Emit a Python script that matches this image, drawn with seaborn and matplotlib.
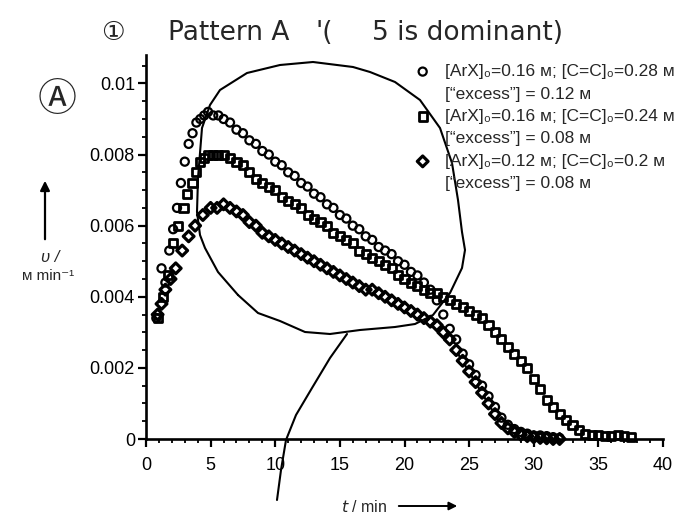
import matplotlib
matplotlib.use("Agg")
import matplotlib.pyplot as plt
import seaborn as sns
from matplotlib.lines import Line2D
from matplotlib.patches import FancyArrowPatch
from matplotlib.ticker import MultipleLocator

# ── Data ────────────────────────────────────────────────────────
# series 1: [ArX]0=0.16 M; [C=C]0=0.28 M  (open circles)
t_circ = [0.8, 1.2, 1.5, 1.8, 2.1, 2.4, 2.7, 3.0, 3.3, 3.6, 3.9, 4.2, 4.5, 4.8,
          5.2, 5.6, 6.0, 6.5, 7.0, 7.5, 8.0, 8.5, 9.0, 9.5, 10.0, 10.5,
          11.0, 11.5, 12.0, 12.5, 13.0, 13.5, 14.0, 14.5, 15.0, 15.5, 16.0,
          16.5, 17.0, 17.5, 18.0, 18.5, 19.0, 19.5, 20.0, 20.5, 21.0, 21.5,
          22.0, 22.5, 23.0, 23.5, 24.0, 24.5, 25.0, 25.5, 26.0, 26.5, 27.0,
          27.5, 28.0, 28.5, 29.0, 29.5, 30.0, 30.5, 31.0, 31.5, 32.0]
v_circ = [0.0034, 0.0048, 0.0044, 0.0053, 0.0059, 0.0065, 0.0072, 0.0078,
          0.0083, 0.0086, 0.0089, 0.0090, 0.0091, 0.0092,
          0.0091, 0.0091, 0.0090, 0.0089, 0.0087, 0.0086, 0.0084, 0.0083,
          0.0081, 0.0080, 0.0078, 0.0077, 0.0075, 0.0074, 0.0072, 0.0071,
          0.0069, 0.0068, 0.0066, 0.0065, 0.0063, 0.0062, 0.0060, 0.0059,
          0.0057, 0.0056, 0.0054, 0.0053, 0.0052, 0.0050, 0.0049, 0.0047,
          0.0046, 0.0044, 0.0042, 0.0039, 0.0035, 0.0031, 0.0028, 0.0024,
          0.0021, 0.0018, 0.0015, 0.0012, 0.0009, 0.0006, 0.0004, 0.00028,
          0.0002, 0.00015, 0.0001, 0.0001, 0.00008, 0.00005, 0.00003]

# series 2: [ArX]0=0.16 M; [C=C]0=0.24 M  (open squares)
t_sq = [0.9, 1.3, 1.7, 2.1, 2.5, 2.9, 3.2, 3.6, 3.9, 4.2, 4.5, 4.8, 5.2, 5.6,
        6.0, 6.5, 7.0, 7.5, 8.0, 8.5, 9.0, 9.5, 10.0, 10.5, 11.0, 11.5,
        12.0, 12.5, 13.0, 13.5, 14.0, 14.5, 15.0, 15.5, 16.0, 16.5, 17.0,
        17.5, 18.0, 18.5, 19.0, 19.5, 20.0, 20.5, 21.0, 21.5, 22.0, 22.5,
        23.0, 23.5, 24.0, 24.5, 25.0, 25.5, 26.0, 26.5, 27.0, 27.5, 28.0,
        28.5, 29.0, 29.5, 30.0, 30.5, 31.0, 31.5, 32.0, 32.5, 33.0, 33.5,
        34.0, 34.5, 35.0, 35.5, 36.0, 36.5, 37.0, 37.5]
v_sq = [0.0034, 0.0040, 0.0046, 0.0055, 0.0060, 0.0065, 0.0069, 0.0072,
        0.0075, 0.0078, 0.0079, 0.0080, 0.0080, 0.0080,
        0.0080, 0.0079, 0.0078, 0.0077, 0.0075, 0.0073, 0.0072, 0.0071,
        0.0070, 0.0068, 0.0067, 0.0066, 0.0065, 0.0063, 0.0062, 0.0061,
        0.0060, 0.0058, 0.0057, 0.0056, 0.0055, 0.0053, 0.0052, 0.0051,
        0.0050, 0.0049, 0.0048, 0.0046, 0.0045, 0.0044, 0.0043, 0.0042,
        0.0041, 0.0041, 0.0040, 0.0039, 0.0038, 0.0037, 0.0036, 0.0035,
        0.0034, 0.0032, 0.0030, 0.0028, 0.0026, 0.0024, 0.0022, 0.0020,
        0.0017, 0.0014, 0.0011, 0.0009, 0.0007, 0.00054, 0.0004, 0.00025,
        0.00015, 0.0001, 0.0001, 0.00008, 0.00008, 0.0001, 0.00008, 0.00006]

# series 3: [ArX]0=0.12 M; [C=C]0=0.2 M  (open diamonds)
t_dia = [0.9, 1.2, 1.5, 1.9, 2.3, 2.8, 3.3, 3.8, 4.4, 5.0, 5.5,
         6.0, 6.5, 7.0, 7.5, 8.0, 8.5, 9.0, 9.5, 10.0, 10.5, 11.0, 11.5,
         12.0, 12.5, 13.0, 13.5, 14.0, 14.5, 15.0, 15.5, 16.0, 16.5, 17.0,
         17.5, 18.0, 18.5, 19.0, 19.5, 20.0, 20.5, 21.0, 21.5, 22.0, 22.5,
         23.0, 23.5, 24.0, 24.5, 25.0, 25.5, 26.0, 26.5, 27.0, 27.5, 28.0,
         28.5, 29.0, 29.5, 30.0, 30.5, 31.0, 31.5, 32.0]
v_dia = [0.0035, 0.0038, 0.0042, 0.0045, 0.0048, 0.0053, 0.0057, 0.0060,
         0.0063, 0.0065, 0.0065,
         0.0066, 0.0065, 0.0064, 0.0063, 0.0061, 0.0060, 0.0058, 0.0057,
         0.0056, 0.0055, 0.0054, 0.0053, 0.0052, 0.0051, 0.0050, 0.0049,
         0.0048, 0.0047, 0.0046, 0.0045, 0.0044, 0.0043, 0.0042, 0.0042,
         0.0041, 0.0040, 0.0039, 0.0038, 0.0037, 0.0036, 0.0035, 0.0034,
         0.0033, 0.0032, 0.0030, 0.0028, 0.0025, 0.0022, 0.0019, 0.0016,
         0.0013, 0.0010, 0.0007, 0.00045, 0.0003, 0.0002, 0.00012, 0.00008,
         0.00005, 0.00003, 0.00002, 0.0, 0.0]

legend_lines = [
    "[ArX]\u2080=0.16 \u1d0d; [C=C]\u2080=0.28 \u1d0d",
    "[\u201cexcess\u201d] = 0.12 \u1d0d",
    "[ArX]\u2080=0.16 \u1d0d; [C=C]\u2080=0.24 \u1d0d",
    "[\u201cexcess\u201d] = 0.08 \u1d0d",
    "[ArX]\u2080=0.12 \u1d0d; [C=C]\u2080=0.2 \u1d0d",
    "[\u201cexcess\u201d] = 0.08 \u1d0d",
]
y_ticks = [0, 0.002, 0.004, 0.006, 0.008, 0.01]
y_tick_labels = ["0", "0.002", "0.004", "0.006", "0.008", "0.01"]
x_ticks = [0, 5, 10, 15, 20, 25, 30, 35, 40]

# hand-drawn loop and pointer line on the scan, figure pixels
loop_px = [(238, 295), (218, 272), (205, 248), (200, 235), (197, 212),
           (198, 178), (202, 128), (210, 105), (220, 90), (247, 73),
           (280, 65), (313, 62), (353, 67), (370, 72), (395, 82), (420, 100),
           (440, 128), (452, 163), (458, 200), (462, 232), (465, 250),
           (462, 268), (450, 293), (433, 315), (415, 324), (395, 327),
           (360, 330), (330, 334), (305, 332), (280, 321), (258, 313),
           (238, 295)]
tail_px = [(347, 334), (330, 358), (312, 388), (296, 415), (286, 440),
           (281, 470), (277, 500)]

W, H = 686, 520


def fx(px):
    return px / W


def fy(py):
    return 1 - py / H


sns.set_theme(style="ticks")
plt.rcParams["font.family"] = ["Liberation Sans", "DejaVu Sans"]
plt.rcParams["axes.edgecolor"] = "black"
plt.rcParams["xtick.color"] = "black"
plt.rcParams["ytick.color"] = "black"

fig = plt.figure(figsize=(W / 100, H / 100), dpi=100)
fig.patch.set_facecolor("white")
ax = fig.add_axes([fx(146), fy(439), (663 - 146) / W, (439 - 55) / H])

series = [
    (t_circ, v_circ, "o", 34, 1.6),
    (t_sq, v_sq, "s", 34, 2.0),
    (t_dia, v_dia, "D", 30, 2.3),
]
for t, v, mk, size, lw in series:
    sns.scatterplot(x=t, y=v, marker=mk, s=size, facecolor="none",
                    edgecolor="black", linewidth=lw, ax=ax, clip_on=False,
                    zorder=3)

ax.set_xlim(0, 40)
ax.set_ylim(0, 0.0108)
ax.set_xticks(x_ticks)
ax.set_xticklabels([str(x) for x in x_ticks])
ax.set_yticks(y_ticks)
ax.set_yticklabels(y_tick_labels)
ax.xaxis.set_minor_locator(MultipleLocator(1))
ax.yaxis.set_minor_locator(MultipleLocator(0.0005))
ax.tick_params(which="major", direction="out", length=6, width=1.6,
               labelsize=13)
ax.tick_params(which="minor", direction="out", length=3, width=1.3)
ax.tick_params(axis="x", which="major", pad=7)
ax.tick_params(axis="y", which="major", pad=2)
for side in ("top", "right"):
    ax.spines[side].set_visible(False)
for side in ("left", "bottom"):
    ax.spines[side].set_linewidth(1.9)
ax.set_xlabel("")
ax.set_ylabel("")

# legend: marker on the first line of each entry
blank = Line2D([], [], linestyle="none", marker=None)
handles = [ax.collections[0], blank, ax.collections[1], blank,
           ax.collections[2], blank]
fig.legend(handles, legend_lines, loc="upper left",
           bbox_to_anchor=(fx(414), fy(64)), frameon=False, fontsize=12.5,
           handlelength=1.0, handletextpad=0.8, labelspacing=0.42,
           borderpad=0, borderaxespad=0, scatterpoints=1)

# axis labels with arrows
fig.add_artist(FancyArrowPatch((fx(45), fy(242)), (fx(45), fy(178)),
                               transform=fig.transFigure, arrowstyle="-|>",
                               mutation_scale=14, lw=1.6, color="black"))
fig.text(fx(50), fy(258), "\u03c5 /", ha="center", va="center",
         fontsize=12, style="italic")
fig.text(fx(48), fy(276), "\u1d0d min\u207b\u00b9", ha="center",
         va="center", fontsize=11)
fig.text(fx(364), fy(507), "$t$ / min", ha="center", va="center",
         fontsize=11.5)
fig.add_artist(FancyArrowPatch((fx(396), fy(506)), (fx(460), fy(506)),
                               transform=fig.transFigure, arrowstyle="-|>",
                               mutation_scale=12, lw=1.4, color="black"))

# handwritten notes on the scan
hand = ["DejaVu Sans", "Noto Sans CJK JP"]
fig.text(fx(113), fy(33), "\u2460", ha="center", va="center", fontsize=19,
         family=hand)
fig.text(fx(168), fy(33), "Pattern A", ha="left", va="center", fontsize=19,
         family=hand)
fig.text(fx(315), fy(33), "'(", ha="left", va="center", fontsize=19,
         family=hand)
fig.text(fx(372), fy(33), "5 is dominant)", ha="left", va="center",
         fontsize=19, family=hand)
fig.text(fx(57), fy(100), "\u24b6", ha="center", va="center", fontsize=28,
         family=["Noto Sans CJK JP", "DejaVu Sans"])
for path in (loop_px, tail_px):
    xs = [fx(p[0]) for p in path]
    ys = [fy(p[1]) for p in path]
    fig.add_artist(Line2D(xs, ys, transform=fig.transFigure, color="black",
                          lw=1.5, solid_capstyle="round"))

fig.savefig("out.png", dpi=100, facecolor="white")
plt.close(fig)
